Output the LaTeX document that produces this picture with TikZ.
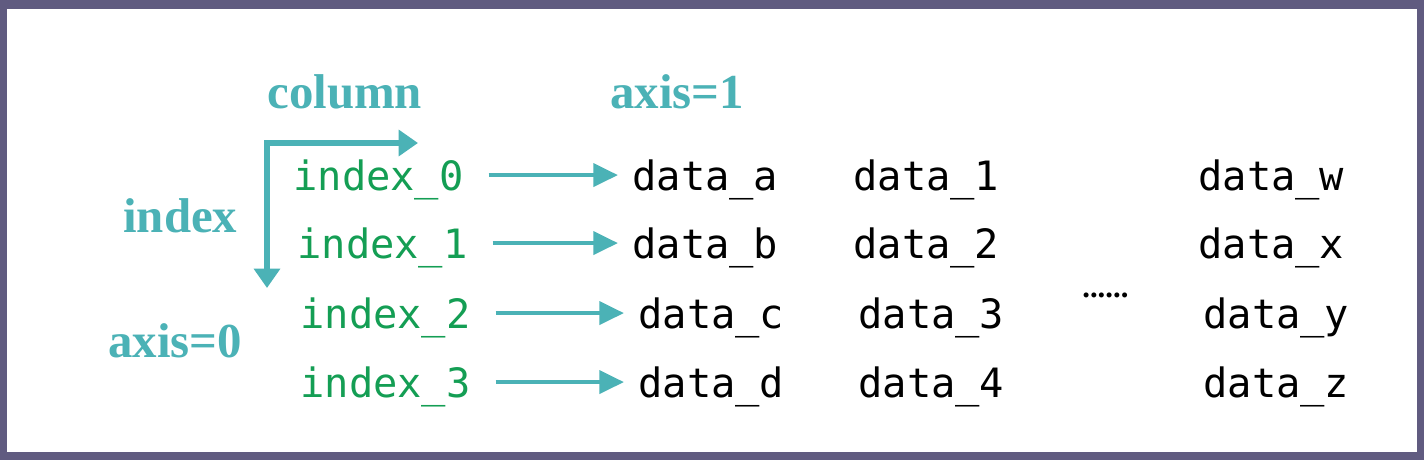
\documentclass[tikz,border=0pt]{standalone}
\usepackage{fontspec}
\setmainfont{Liberation Serif}
\setmonofont{DejaVu Sans Mono}
\usepackage{xcolor}
\usetikzlibrary{arrows.meta, positioning}

\definecolor{frame}{RGB}{96,91,128}
\definecolor{axisteal}{RGB}{75,178,182}
\definecolor{idxgreen}{RGB}{20,158,84}

\begin{document}
\begin{tikzpicture}[x=0.02cm, y=-0.02cm,
    lbl/.style={anchor=base west, inner sep=0, text=axisteal,
                font=\fontsize{27.8}{32}\selectfont\bfseries},
    idx/.style={anchor=base west, inner sep=0, text=idxgreen,
                text height=21pt, text depth=4pt,
                font=\fontsize{23}{27}\selectfont\ttfamily},
    cell/.style={anchor=base west, inner sep=0, text=black,
                 text height=21pt, text depth=4pt,
                 font=\fontsize{23}{27}\selectfont\ttfamily},
    arrow/.style={-{Triangle[length=14pt, width=13pt]}, line width=2.5pt,
                  draw=axisteal, shorten <=14pt, shorten >=8pt},
    bigarrow/.style={{Triangle[length=11pt, width=14.5pt]}-{Triangle[length=11pt, width=14.5pt]},
                     line width=2.9pt, draw=axisteal, miter limit=10}]
  % frame
  \fill[frame] (0,0) rectangle (1424,460);
  \fill[white] (7,9) rectangle (1417,452);
  % axis labels
  \node[lbl] (column) at (267,108) {column};
  \node[lbl] (ax1) at (610,108) {axis=1};
  \node[lbl] (index) at (123,232) {index};
  \node[lbl] (ax0) at (108,357) {axis=0};
  \coordinate (corner) at (267,143);
  \coordinate (colend) at (418,143);
  \coordinate (rowend) at (267,288);
  \draw[bigarrow] (rowend) -- (corner) -- (colend);
  % index column
  \node[idx] (i0) at (293,190) {index\_0};
  \node[idx] (i1) at (297,258) {index\_1};
  \node[idx] (i2) at (300,328) {index\_2};
  \node[idx] (i3) at (300,397) {index\_3};
  % data
  \node[cell] (da) at (632,190) {data\_a};
  \node[cell] (db) at (632,258) {data\_b};
  \node[cell] (dc) at (638,328) {data\_c};
  \node[cell] (dd) at (638,397) {data\_d};
  \node[cell] (d1) at (853,190) {data\_1};
  \node[cell] (d2) at (853,258) {data\_2};
  \node[cell] (d3) at (858,328) {data\_3};
  \node[cell] (d4) at (858,397) {data\_4};
  \node[cell] (dw) at (1198,190) {data\_w};
  \node[cell] (dx) at (1198,258) {data\_x};
  \node[cell] (dy) at (1203,328) {data\_y};
  \node[cell] (dz) at (1203,397) {data\_z};
  \node[anchor=base west, inner sep=0, font=\fontsize{17.5}{20}\selectfont\bfseries]
    (dots) at (1082,297) {......};
  \draw[arrow] (i0) -- (da);
  \draw[arrow] (i1) -- (db);
  \draw[arrow] (i2) -- (dc);
  \draw[arrow] (i3) -- (dd);
\end{tikzpicture}
\end{document}
